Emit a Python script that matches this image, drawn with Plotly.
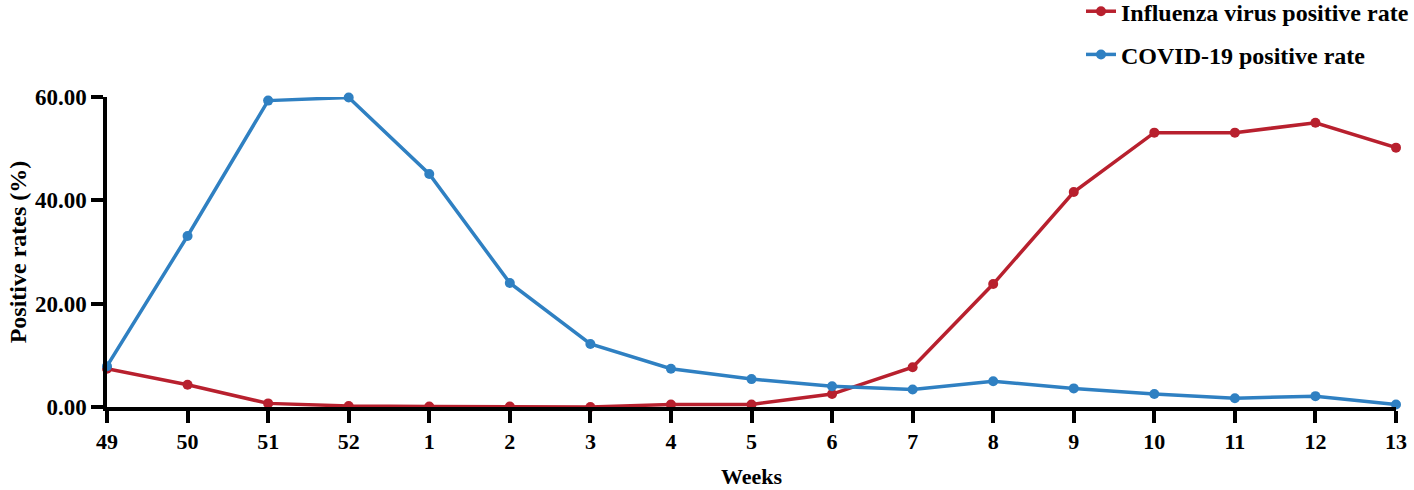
import plotly.graph_objects as go

# Weekly positive rates (%)
weeks = ["49", "50", "51", "52", "1", "2", "3", "4", "5", "6", "7", "8", "9", "10", "11", "12", "13"]
influenza_rate = [7.4, 4.3, 0.7, 0.2, 0.1, 0.1, 0.0, 0.5, 0.5, 2.5, 7.7, 23.8, 41.6, 53.1, 53.1, 55.0, 50.2]
covid_rate = [7.9, 33.1, 59.3, 59.9, 45.1, 24.0, 12.2, 7.4, 5.4, 4.0, 3.4, 5.0, 3.6, 2.5, 1.7, 2.1, 0.5]
y_ticks = [0, 20, 40, 60]

red = "#B8202E"
blue = "#2F80C2"
font = "Liberation Serif"

fig = go.Figure()
fig.add_trace(go.Scatter(
    x=weeks, y=influenza_rate, name="<b>Influenza virus positive rate</b>",
    mode="lines+markers", line=dict(color=red, width=3.5),
    marker=dict(size=10, color=red), cliponaxis=False, legendgroup="flu",
))
fig.add_trace(go.Scatter(
    x=weeks, y=covid_rate, name="<b>COVID-19 positive rate</b>",
    mode="lines+markers", line=dict(color=blue, width=3.5),
    marker=dict(size=10, color=blue), cliponaxis=False, legendgroup="covid",
))

fig.update_layout(
    width=1414, height=490,
    margin=dict(l=107, r=18, t=97, b=83, autoexpand=False),
    plot_bgcolor="white", paper_bgcolor="white",
    font=dict(family=font, size=18, color="black"),
    legend=dict(
        xref="container", x=1.0, xanchor="right",
        y=1.348, yanchor="top",
        font=dict(family=font, size=24, color="black"),
        itemwidth=30, tracegroupgap=9, traceorder="grouped",
    ),
    xaxis=dict(
        type="category", range=[0, 16],
        showline=True, linecolor="black", linewidth=3.5,
        ticks="outside", ticklen=12, tickwidth=3.5, tickcolor="black",
        tickfont=dict(family=font, size=22, color="black", weight="bold"),
        title=dict(text="<b>Weeks</b>", font=dict(family=font, size=22), standoff=16),
        showgrid=False, zeroline=False,
    ),
    yaxis=dict(
        range=[0, 60], tickvals=y_ticks,
        tickformat=".2f",
        showline=True, linecolor="black", linewidth=3.5,
        ticks="outside", ticklen=12, tickwidth=3.5, tickcolor="black",
        tickfont=dict(family=font, size=23, color="black", weight="bold"),
        title=dict(text="<b>Positive rates (%)</b>", font=dict(family=font, size=24), standoff=3),
        showgrid=False, zeroline=False,
    ),
)

# drop the page's default body margin so the figure sits at the window's corner
fig.write_html(
    "out.html",
    config={"displayModeBar": False},
    post_script="document.body.style.margin = '0';",
)
